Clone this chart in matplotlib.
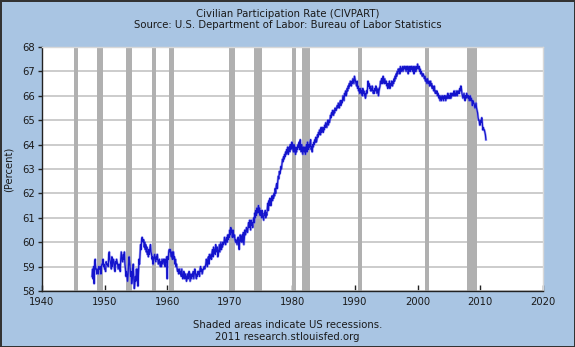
# Civilian Participation Rate (CIVPART), FRED style chart, 1948-2010 monthly
import numpy as np
import matplotlib.pyplot as plt

# ---- data (percent, monthly) ----
civpart_1940s = [
    58.6, 58.9, 58.5, 59.0, 58.3, 59.2, 59.3, 58.9, 58.9, 58.7, 58.9, 58.8,  # 1948
    58.7, 59.0, 58.9, 58.9, 59.0, 58.7, 59.0, 59.1, 59.1, 59.3, 59.0, 59.1,  # 1949
]
civpart_1950s = [
    58.9, 58.9, 58.8, 59.2, 59.1, 59.1, 59.1, 59.0, 59.5, 59.6, 59.3, 59.2,
    59.1, 58.9, 59.4, 59.0, 59.2, 59.3, 59.2, 58.9, 58.8, 59.2, 59.1, 59.3,
    59.2, 59.1, 58.9, 59.0, 59.1, 59.0, 58.8, 59.3, 59.6, 59.4, 59.2, 59.2,
    59.5, 59.3, 59.6, 59.1, 58.9, 58.6, 58.8, 58.6, 58.4, 58.7, 59.1, 59.4,
    59.2, 58.9, 58.6, 58.8, 58.3, 58.5, 58.9, 59.1, 58.5, 58.1, 58.3, 58.6,
    58.4, 58.9, 58.5, 58.9, 58.2, 58.8, 59.3, 59.1, 59.5, 59.9, 59.7, 60.1,
    60.2, 60.1, 60.0, 60.1, 59.8, 60.0, 59.7, 59.9, 59.6, 59.8, 59.5, 59.6,
    59.4, 59.7, 59.5, 59.8, 59.9, 59.6, 59.5, 59.3, 59.4, 59.1, 59.3, 59.4,
    59.5, 59.3, 59.2, 59.4, 59.3, 59.5, 59.3, 59.1, 59.2, 59.3, 59.1, 59.0,
    59.2, 59.0, 59.3, 59.2, 59.1, 59.3, 59.2, 59.3, 59.0, 59.3, 59.2, 59.4,
]
civpart_1960s = [
    58.5, 59.4, 59.3, 59.6, 59.7, 59.6, 59.7, 59.5, 59.4, 59.6, 59.3, 59.6,
    59.6, 59.3, 59.4, 59.1, 59.3, 59.0, 59.1, 58.9, 58.8, 58.9, 58.7, 58.8,
    58.9, 58.7, 58.8, 58.6, 58.9, 58.7, 58.5, 58.6, 58.8, 58.6, 58.5, 58.7,
    58.6, 58.4, 58.5, 58.7, 58.5, 58.6, 58.8, 58.6, 58.4, 58.7, 58.6, 58.5,
    58.7, 58.6, 58.8, 58.5, 58.7, 58.9, 58.8, 58.6, 58.5, 58.7, 58.6, 58.8,
    58.7, 58.8, 58.6, 58.9, 59.0, 58.8, 58.9, 58.7, 58.8, 58.9, 58.9, 59.0,
    58.9, 59.0, 59.1, 59.3, 59.2, 59.0, 59.3, 59.4, 59.1, 59.5, 59.3, 59.4,
    59.5, 59.3, 59.6, 59.7, 59.4, 59.8, 59.6, 59.7, 59.5, 59.9, 59.7, 59.6,
    59.8, 59.4, 59.5, 59.7, 59.9, 59.6, 59.8, 60.0, 59.7, 59.9, 59.8, 60.0,
    59.9, 60.0, 60.2, 60.0, 59.9, 60.1, 60.2, 60.0, 60.3, 60.1, 60.3, 60.2,
]
civpart_1970s = [
    60.5, 60.3, 60.6, 60.4, 60.4, 60.2, 60.5, 60.3, 60.2, 60.3, 60.1, 60.0,
    60.1, 60.0, 59.9, 60.1, 60.2, 60.0, 59.7, 60.1, 60.3, 60.2, 60.0, 60.2,
    60.3, 60.0, 60.4, 59.9, 60.2, 60.5, 60.3, 60.4, 60.6, 60.5, 60.4, 60.6,
    60.8, 60.6, 60.9, 60.7, 60.5, 60.9, 60.7, 60.8, 60.6, 60.9, 61.0, 60.8,
    61.2, 61.0, 61.3, 61.1, 61.4, 61.2, 61.3, 61.5, 61.2, 61.4, 61.1, 61.3,
    61.2, 61.0, 61.3, 61.1, 61.0, 60.9, 61.2, 61.1, 61.3, 61.0, 61.2, 61.1,
    61.4, 61.6, 61.3, 61.7, 61.5, 61.8, 61.6, 61.5, 61.7, 61.9, 61.7, 61.9,
    61.8, 62.0, 61.9, 62.2, 62.0, 62.3, 62.4, 62.2, 62.5, 62.7, 62.6, 62.9,
    62.8, 62.9, 63.1, 63.0, 63.2, 63.4, 63.3, 63.5, 63.4, 63.6, 63.5, 63.7,
    63.6, 63.8, 63.7, 63.9, 63.6, 63.8, 63.9, 63.7, 64.0, 63.8, 63.9, 64.1,
]
civpart_1980s = [
    63.9, 63.8, 63.7, 64.0, 63.7, 63.9, 63.6, 63.8, 63.7, 63.9, 63.8, 64.0,
    63.9, 64.1, 63.8, 64.2, 63.9, 63.7, 64.0, 63.8, 63.6, 63.9, 63.8, 63.7,
    63.9, 63.6, 63.8, 64.0, 63.7, 64.1, 63.9, 63.8, 64.0, 63.9, 64.1, 64.2,
    63.8, 63.9, 63.7, 64.0, 63.9, 64.1, 64.0, 64.2, 64.1, 64.3, 64.1, 64.2,
    64.4, 64.3, 64.5, 64.4, 64.6, 64.5, 64.4, 64.7, 64.5, 64.6, 64.7, 64.5,
    64.7, 64.6, 64.8, 64.7, 64.9, 64.8, 64.7, 64.9, 65.0, 64.8, 65.0, 64.9,
    65.0, 65.2, 65.1, 65.3, 65.2, 65.4, 65.3, 65.2, 65.4, 65.3, 65.5, 65.4,
    65.4, 65.5, 65.6, 65.5, 65.7, 65.6, 65.5, 65.7, 65.8, 65.6, 65.8, 65.7,
    65.8, 66.0, 65.9, 65.8, 66.1, 66.0, 66.2, 66.0, 66.1, 66.3, 66.2, 66.4,
    66.3, 66.5, 66.4, 66.6, 66.5, 66.4, 66.6, 66.5, 66.7, 66.6, 66.5, 66.8,
]
civpart_1990s = [
    66.7, 66.6, 66.5, 66.4, 66.6, 66.3, 66.4, 66.2, 66.3, 66.1, 66.2, 66.3,
    66.1, 66.2, 66.0, 66.3, 66.1, 66.2, 66.0, 66.1, 65.9, 66.0, 66.2, 66.1,
    66.3, 66.6, 66.4, 66.5, 66.3, 66.4, 66.2, 66.3, 66.2, 66.4, 66.3, 66.1,
    66.2, 66.1, 66.3, 66.2, 66.4, 66.3, 66.1, 66.2, 66.3, 66.0, 66.2, 66.3,
    66.4, 66.6, 66.5, 66.7, 66.5, 66.6, 66.8, 66.6, 66.5, 66.7, 66.6, 66.5,
    66.6, 66.4, 66.5, 66.3, 66.5, 66.4, 66.6, 66.3, 66.5, 66.4, 66.6, 66.5,
    66.4, 66.6, 66.5, 66.7, 66.6, 66.8, 66.7, 66.9, 66.8, 67.0, 66.9, 67.1,
    67.0, 67.1, 66.9, 67.2, 67.1, 67.0, 67.1, 67.2, 67.0, 67.1, 67.2, 67.1,
    67.2, 67.1, 67.0, 67.2, 67.1, 67.2, 66.9, 67.1, 67.2, 67.0, 67.0, 67.2,
    67.1, 67.2, 67.0, 67.1, 67.2, 66.9, 67.1, 67.2, 67.0, 67.0, 67.2, 67.1,
]
civpart_2000s = [
    67.3, 67.2, 67.1, 67.2, 67.0, 67.1, 66.9, 67.0, 66.9, 66.8, 66.9, 66.9,
    66.8, 66.7, 66.8, 66.6, 66.7, 66.6, 66.5, 66.7, 66.6, 66.5, 66.6, 66.4,
    66.5, 66.6, 66.4, 66.5, 66.3, 66.4, 66.3, 66.2, 66.4, 66.2, 66.1, 66.2,
    66.1, 66.2, 66.0, 66.1, 66.0, 65.9, 66.0, 65.8, 65.9, 66.0, 65.8, 65.9,
    66.0, 65.9, 65.8, 66.0, 65.9, 66.0, 65.8, 65.9, 66.0, 65.9, 66.1, 65.9,
    65.9, 66.0, 65.9, 66.1, 65.9, 66.0, 66.1, 66.0, 66.1, 66.0, 66.2, 66.0,
    66.1, 66.0, 66.2, 66.1, 66.0, 66.2, 66.1, 66.2, 66.1, 66.3, 66.2, 66.4,
    66.3, 66.1, 66.0, 65.9, 66.0, 66.1, 65.9, 65.8, 66.0, 65.9, 66.1, 66.0,
    66.0, 65.9, 66.0, 65.8, 65.9, 66.0, 65.8, 65.9, 65.8, 65.6, 65.8, 65.7,
    65.7, 65.6, 65.5, 65.6, 65.7, 65.5, 65.4, 65.3, 65.1, 65.0, 65.0, 64.8,
]
civpart_2010s = [
    64.8, 65.0, 64.9, 65.1, 64.9, 64.6, 64.7, 64.6, 64.6, 64.5, 64.4, 64.2,
]
first_year = 1948

# NBER recessions (start, end) as decimal years
rec_start = [1945 + 1/12, 1948 + 10/12, 1953 + 6/12, 1957 + 7/12, 1960 + 3/12,
             1969 + 11/12, 1973 + 10/12, 1980 + 0/12, 1981 + 6/12, 1990 + 6/12,
             2001 + 2/12, 2007 + 11/12]
rec_end = [1945 + 9/12, 1949 + 9/12, 1954 + 4/12, 1958 + 3/12, 1961 + 1/12,
           1970 + 10/12, 1975 + 2/12, 1980 + 6/12, 1982 + 10/12, 1991 + 2/12,
           2001 + 10/12, 2009 + 5/12]

x_ticks = list(range(1940, 2021, 10))
y_ticks = list(range(58, 69))

values = np.array(civpart_1940s + civpart_1950s + civpart_1960s + civpart_1970s
                  + civpart_1980s + civpart_1990s + civpart_2000s + civpart_2010s)
dates = first_year + np.arange(len(values)) / 12.0

# ---- figure ----
bg = "#a9c5e3"
txt = "#1a1a1a"
fig = plt.figure(figsize=(5.75, 3.47), dpi=100, facecolor=bg,
                 edgecolor="#333333", linewidth=2)
ax = fig.add_axes([0.073, 0.1614, 0.871, 0.7032])
ax.set_facecolor("white")

for s, e in zip(rec_start, rec_end):
    ax.axvspan(s, e, color="#b0b0b0", lw=0, zorder=2)

# soft halo + core, like the antialiased original
ax.plot(dates, values, color="#6f6ff0", lw=1.8, alpha=0.6, zorder=3)
ax.plot(dates, values, color="#1414cc", lw=0.9, zorder=4)

ax.set_xlim(1940, 2020)
ax.set_ylim(58, 68)
ax.set_xticks(x_ticks)
ax.set_yticks(y_ticks)
ax.yaxis.grid(True, color="#c8c8c8", lw=1.3, zorder=1)
ax.set_axisbelow(True)

ax.tick_params(axis="x", direction="in", length=4, width=1, colors="#222222",
               labelsize=7.2, labelcolor=txt, pad=4)
ax.tick_params(axis="y", direction="out", length=3, width=1, colors="#222222",
               labelsize=7.2, labelcolor=txt, pad=2)
for side in ("top", "right"):
    ax.spines[side].set_color("#d8d8d8")
    ax.spines[side].set_linewidth(1)
for side in ("left", "bottom"):
    ax.spines[side].set_color("#222222")
    ax.spines[side].set_linewidth(1)

ax.set_ylabel("(Percent)", fontsize=7.2, color=txt, labelpad=6)

fig.text(0.5, 1 - 14/347, "Civilian Participation Rate (CIVPART)",
         ha="center", va="center", fontsize=7.3, color=txt)
fig.text(0.5, 1 - 25/347, "Source: U.S. Department of Labor: Bureau of Labor Statistics",
         ha="center", va="center", fontsize=7.3, color=txt)
fig.text(0.5, 1 - 325/347, "Shaded areas indicate US recessions.",
         ha="center", va="center", fontsize=7.3, color=txt)
fig.text(0.5, 1 - 337/347, "2011 research.stlouisfed.org",
         ha="center", va="center", fontsize=7.3, color=txt)

fig.savefig("out.png", dpi=100, facecolor=bg, edgecolor="#333333")
